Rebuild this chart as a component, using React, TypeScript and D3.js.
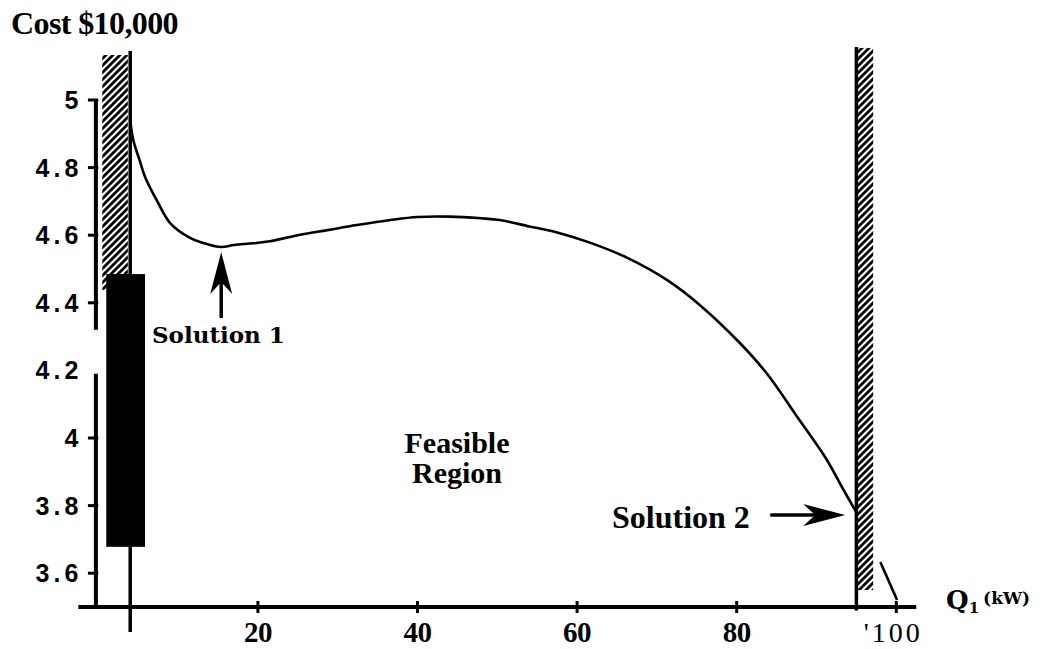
import React from 'react';
import * as d3 from 'd3';

// cost curve (Q1 in kW, cost in $10,000)
const qValues = [4, 4.4, 5.2, 5.9, 7.4, 9, 11.5, 13, 15.4, 17, 19.4, 21.5, 25, 28.7, 32.4, 36.6, 40, 44, 48, 50.3, 54, 57.5, 61.6, 66.3, 71.3, 75.4, 80.4, 83.8, 87.6, 91.3, 93.3, 95];
const costValues = [4.94, 4.88, 4.82, 4.77, 4.7, 4.636, 4.592, 4.578, 4.565, 4.571, 4.576, 4.582, 4.6, 4.615, 4.63, 4.645, 4.654, 4.655, 4.65, 4.645, 4.626, 4.608, 4.578, 4.533, 4.467, 4.393, 4.281, 4.19, 4.062, 3.935, 3.85, 3.78];

// little stroke past the right boundary
const tailQ = [98, 100.1];
const tailC = [3.633, 3.521];

const yTicks = [5, 4.8, 4.6, 4.4, 4.2, 4, 3.8, 3.6];
const yTickLabels = ['5', '4.8', '4.6', '4.4', '4.2', '4', '3.8', '3.6'];
const xTicks = [20, 40, 60, 80, 100];
const xTickLabels = ['20', '40', '60', '80', "'100"];

// constraint boundaries
const boundaries = [4, 95];

const width = 1044;
const height = 649;

export default function App() {
  const x = d3.scaleLinear().domain([0, 100]).range([98.3, 896.3]);
  const y = d3.scaleLinear().domain([3.5, 5]).range([607, 100]);

  const pts: [number, number][] = qValues.map((q, i) => [q, costValues[i]]);
  const line = d3.line<[number, number]>()
    .x(d => x(d[0]))
    .y(d => y(d[1]))
    .curve(d3.curveCatmullRom);
  const tail: [number, number][] = tailQ.map((q, i) => [q, tailC[i]]);

  const serif = '"Liberation Serif", "Times New Roman", serif';

  // arrow head with a notch, tip at (tx,ty)
  const arrowHead = (tx: number, ty: number, angle: number) => (
    <path
      d="M0,0 L-42,-11 L-30,0 L-42,11 Z"
      transform={`translate(${tx},${ty}) rotate(${angle})`}
      fill="#000"
    />
  );

  const a1x = x(15.4);
  const a1tip = y(4.55);
  const a1tail = y(4.355);
  const a2y = y(3.772);
  const a2tip = x(93.6);
  const a2tail = x(84.2);

  return (
    <svg width={width} height={height} style={{ position: 'absolute', left: 0, top: 0, background: '#fff' }}>
      <defs>
        <pattern id="hatch" patternUnits="userSpaceOnUse" width="7" height="7">
          <path d="M-1,1 l2,-2 M0,7 l7,-7 M6,8 l2,-2" stroke="#000" strokeWidth="2.8" />
        </pattern>
      </defs>

      <text x={11} y={34} fontFamily={serif} fontWeight="bold" fontSize={32} letterSpacing={-0.6}>Cost $10,000</text>

      {/* hatched infeasible bands */}
      <rect x={x(0.5)} y={y(5.133)} width={x(3.7) - x(0.5)} height={y(4.438) - y(5.133)} fill="url(#hatch)" />
      <rect x={x(95.1)} y={y(5.154)} width={x(97.1) - x(95.1)} height={y(3.55) - y(5.154)} fill="url(#hatch)" />

      {/* black block over the left axis */}
      <rect x={x(1)} y={y(4.485)} width={x(5.85) - x(1)} height={y(3.678) - y(4.485)} fill="#000" />

      {/* axes */}
      <line x1={x(-2.5)} x2={x(102.5)} y1={y(3.5)} y2={y(3.5)} stroke="#000" strokeWidth={4} />
      <line x1={x(-0.3)} x2={x(-0.3)} y1={y(5)} y2={y(4.32)} stroke="#000" strokeWidth={4} />
      <line x1={x(-0.3)} x2={x(-0.3)} y1={y(4.19)} y2={y(3.5)} stroke="#000" strokeWidth={4} />

      {yTicks.map((t, i) => (
        <g key={t} transform={`translate(0,${y(t)})`}>
          {t !== 4.2 && <line x1={x(-1.3)} x2={x(0)} stroke="#000" strokeWidth={3} />}
          <text
            x={x(-2)}
            dy="0.36em"
            textAnchor="end"
            fontFamily='"Liberation Sans", Arial, sans-serif'
            fontWeight="bold"
            fontSize={25}
            letterSpacing={4}
          >
            {yTickLabels[i]}
          </text>
        </g>
      ))}

      {xTicks.map((t, i) => (
        <g key={t} transform={`translate(${x(t)},0)`}>
          <line y1={y(3.5) - 6} y2={y(3.5) + 6} stroke="#000" strokeWidth={3} />
          <text
            y={642}
            textAnchor="middle"
            fontFamily={serif}
            fontWeight={t === 100 ? 'normal' : 'bold'}
            fontSize={t === 100 ? 28 : 29}
            letterSpacing={t === 100 ? 3 : -0.5}
            dx={t === 100 ? -3 : 0}
          >
            {xTickLabels[i]}
          </text>
        </g>
      ))}

      {/* constraint boundary lines */}
      <line x1={x(boundaries[0])} x2={x(boundaries[0])} y1={y(5.145)} y2={y(3.426)} stroke="#000" strokeWidth={3.5} />
      <line x1={x(boundaries[1])} x2={x(boundaries[1])} y1={y(5.157)} y2={y(3.49)} stroke="#000" strokeWidth={3.5} />

      {/* cost curve */}
      <path d={line(pts) || ''} fill="none" stroke="#000" strokeWidth={2.6} />
      <path d={line(tail) || ''} fill="none" stroke="#000" strokeWidth={2.6} />

      {/* Solution 1 */}
      <line x1={a1x} x2={a1x} y1={a1tail} y2={a1tip + 20} stroke="#000" strokeWidth={3.5} />
      {arrowHead(a1x, a1tip, -90)}
      <text x={152} y={343} fontFamily='"DejaVu Serif", serif' fontWeight="bold" fontSize={23}>Solution 1</text>

      {/* Solution 2 */}
      <line x1={a2tail} x2={a2tip - 20} y1={a2y} y2={a2y} stroke="#000" strokeWidth={3.5} />
      {arrowHead(a2tip, a2y, 0)}
      <text x={612} y={528} fontFamily={serif} fontWeight="bold" fontSize={32}>Solution 2</text>

      <text textAnchor="middle" fontFamily={serif} fontWeight="bold" fontSize={30}>
        <tspan x={457} y={453}>Feasible</tspan>
        <tspan x={457} y={483}>Region</tspan>
      </text>

      <text x={946} y={609} fontFamily='"DejaVu Serif", serif' fontWeight="bold" fontSize={26}>
        Q<tspan fontSize={15} dy={4}>1</tspan>
        <tspan fontSize={17} dy={-9} dx={4}>(kW)</tspan>
      </text>
    </svg>
  );
}
